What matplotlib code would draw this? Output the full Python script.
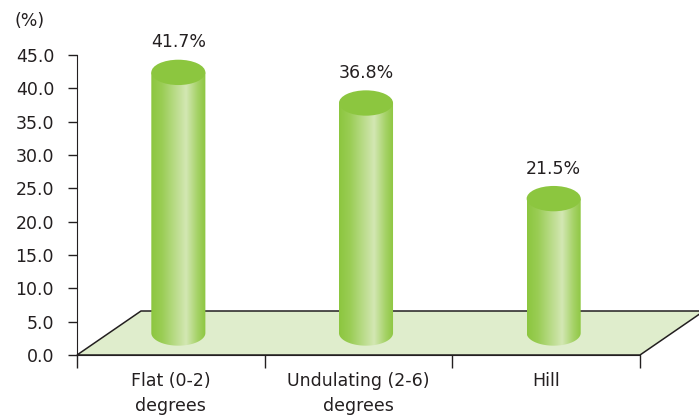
import matplotlib
matplotlib.use('Agg')
import matplotlib.pyplot as plt
import numpy as np
from matplotlib.patches import Polygon, Ellipse, PathPatch
from matplotlib.path import Path
from matplotlib.colors import LinearSegmentedColormap

# data
categories = ['Flat (0-2)\ndegrees', 'Undulating (2-6)\ndegrees', 'Hill']
values = [41.7, 36.8, 21.5]
y_ticks = [0, 5, 10, 15, 20, 25, 30, 35, 40, 45]

TEXT = '#231f20'
GREEN = '#8cc63f'
LIGHT = '#d3e7b3'
FLOOR = '#dfedcc'

plt.rcParams['font.family'] = ['DejaVu Sans']
plt.rcParams['font.size'] = 12.5

fig = plt.figure(figsize=(6.99, 4.18), dpi=100)
ax = fig.add_axes([77 / 699, 63 / 418, 563 / 699, 300 / 418])
ax.set_xlim(-0.5, len(categories) - 0.5)
ax.set_ylim(0, 45)

# pseudo 3d floor
depth_x = 0.341
depth_y = 6.6
x0, x1 = -0.5, len(categories) - 0.5
floor = Polygon([(x0, 0), (x1, 0), (x1 + depth_x, depth_y), (x0 + depth_x, depth_y)],
                closed=True, facecolor=FLOOR, edgecolor='#231f20', lw=1.1,
                clip_on=False, zorder=1)
ax.add_patch(floor)

# cylinders
w = 0.288
ry = 1.9
base = depth_y / 2
scale = 0.9375
shift = 0.04
cmap = LinearSegmentedColormap.from_list('cyl', [(0, GREEN), (0.2, '#9acd55'), (0.64, LIGHT),
                                                 (0.85, '#a5d266'), (1, GREEN)])
grad = cmap(np.linspace(0, 1, 256))[np.newaxis, :, :3]

for i, v in enumerate(values):
    xc = i + shift
    top = base + v * scale
    t = np.linspace(np.pi, 2 * np.pi, 60)
    pts = [(xc - w / 2, top)]
    pts += [(xc + w / 2 * np.cos(a), base + ry * np.sin(a)) for a in t]
    pts += [(xc + w / 2, top), (xc - w / 2, top)]
    body = PathPatch(Path(pts), facecolor='none', edgecolor='none', zorder=3)
    ax.add_patch(body)
    im = ax.imshow(grad, extent=[xc - w / 2, xc + w / 2, base - ry, top],
                   aspect='auto', zorder=3, interpolation='bilinear')
    im.set_clip_path(body)
    ax.add_patch(Ellipse((xc, top), w, 2 * ry, facecolor=GREEN, edgecolor='none', zorder=4))
    ax.annotate(f'{v}%', (xc, top + ry), xytext=(0, 6), textcoords='offset points',
                ha='center', va='bottom', color=TEXT)

ax.set_xlim(-0.5, len(categories) - 0.5)
ax.set_ylim(0, 45)

# axes styling
for s in ['top', 'right']:
    ax.spines[s].set_visible(False)
ax.spines['left'].set_color('#231f20')
ax.spines['bottom'].set_color('#231f20')
ax.spines['bottom'].set_zorder(2)

ax.set_yticks(y_ticks)
ax.set_yticklabels([f'{t:.1f}' for t in y_ticks], color=TEXT)
ax.tick_params(axis='y', length=6.5, width=1, pad=10, color='#231f20')

ax.set_xticks(range(len(categories)))
ax.set_xticklabels(categories, color=TEXT, linespacing=1.5)
ax.tick_params(axis='x', which='major', length=0, pad=12.5)
ax.set_xticks(np.arange(-0.5, len(categories)), minor=True)
ax.tick_params(axis='x', which='minor', length=9, width=1, color='#231f20')

fig.text(30 / 699, 1 - 21 / 418, '(%)', ha='center', va='center', color=TEXT)

fig.savefig('out.png', dpi=100)
